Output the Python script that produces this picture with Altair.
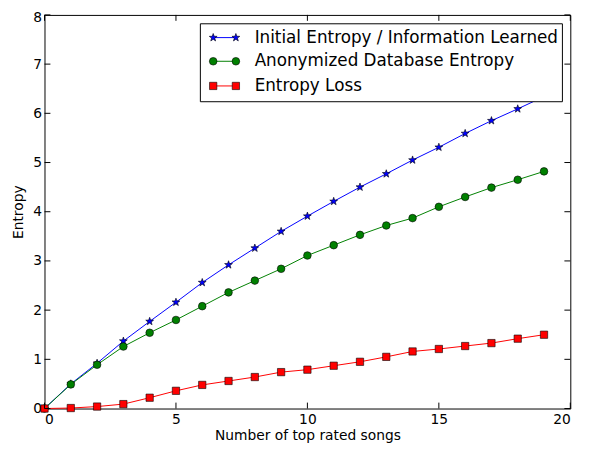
import math
import altair as alt
import pandas as pd

# ---- data ----
songs = list(range(20))
initial_entropy = [0.0, 0.50, 0.92, 1.37, 1.77, 2.16, 2.56, 2.92, 3.26, 3.60,
                   3.91, 4.21, 4.50, 4.77, 5.05, 5.31, 5.59, 5.85, 6.09, 6.34]
anon_entropy = [0.0, 0.49, 0.89, 1.26, 1.54, 1.80, 2.08, 2.36, 2.60, 2.84,
                3.11, 3.32, 3.53, 3.72, 3.87, 4.10, 4.30, 4.49, 4.65, 4.82]
entropy_loss = [0.0, 0.01, 0.04, 0.09, 0.22, 0.36, 0.48, 0.56, 0.64, 0.74,
                0.79, 0.87, 0.95, 1.05, 1.16, 1.21, 1.27, 1.33, 1.42, 1.50]
series_names = ["Initial Entropy / Information Learned",
                "Anonymized Database Entropy",
                "Entropy Loss"]
x_ticks = [0, 5, 10, 15, 20]
y_ticks = [0, 1, 2, 3, 4, 5, 6, 7, 8]

# ---- styles ----
W, H = 533, 399
FONT = "DejaVu Sans"
colors = ["#0000ff", "#008000", "#ff0000"]

def star_path(n=5, r_out=1.0, r_in=0.4):
    pts = []
    for i in range(2 * n):
        r = r_out if i % 2 == 0 else r_in
        a = math.pi * i / n
        pts.append((r * math.sin(a), -r * math.cos(a)))
    return "M" + "L".join(f"{x:.3f},{y:.3f}" for x, y in pts) + "Z"

STAR = star_path()
shapes = [STAR, "circle", "square"]
sizes = [70, 60, 55]

rows = []
for name, vals in zip(series_names, [initial_entropy, anon_entropy, entropy_loss]):
    for s, v in zip(songs, vals):
        rows.append({"songs": s, "entropy": v, "series": name})
df = pd.DataFrame(rows)

xscale = alt.Scale(domain=[0, 20], nice=False, zero=False)
yscale = alt.Scale(domain=[0, 8], nice=False, zero=False)
color = alt.Color("series:N", scale=alt.Scale(domain=series_names, range=colors), legend=None)

X = alt.X("songs:Q", scale=xscale,
          axis=alt.Axis(values=x_ticks, title="Number of top rated songs",
                        labelPadding=4, titlePadding=2))
Y = alt.Y("entropy:Q", scale=yscale,
          axis=alt.Axis(values=y_ticks, title="Entropy", labelPadding=3,
                        titlePadding=7,
                        labelOffset={"condition": {"test": "datum.value == 8", "value": 3},
                                     "value": 0}))

base = alt.Chart(df)
lines = base.mark_line(strokeWidth=1).encode(x=X, y=Y, color=color, detail="series:N")

points = []
for name, col, shp, sz in zip(series_names, colors, shapes, sizes):
    points.append(
        alt.Chart(df[df.series == name]).mark_point(
            filled=True, fill=col, shape=shp, size=sz, stroke="black",
            strokeWidth=0.6, opacity=1
        ).encode(x=alt.X("songs:Q", scale=xscale), y=alt.Y("entropy:Q", scale=yscale))
    )

# inward ticks on all four sides
xt = pd.DataFrame({"songs": x_ticks})
yt = pd.DataFrame({"entropy": y_ticks})
TL = 6
ticks = [
    alt.Chart(xt).mark_rule(color="black", strokeWidth=1).encode(
        x=alt.X("songs:Q", scale=xscale), y=alt.value(H), y2=alt.value(H - TL)),
    alt.Chart(xt).mark_rule(color="black", strokeWidth=1).encode(
        x=alt.X("songs:Q", scale=xscale), y=alt.value(0), y2=alt.value(TL)),
    alt.Chart(yt).mark_rule(color="black", strokeWidth=1).encode(
        y=alt.Y("entropy:Q", scale=yscale), x=alt.value(0), x2=alt.value(TL)),
    alt.Chart(yt).mark_rule(color="black", strokeWidth=1).encode(
        y=alt.Y("entropy:Q", scale=yscale), x=alt.value(W), x2=alt.value(W - TL)),
]

# manual legend (matplotlib style)
one = pd.DataFrame({"k": [0]})
legend_layers = [
    alt.Chart(one).mark_rect(fill="white", stroke="black", strokeWidth=1).encode(
        x=alt.value(158), x2=alt.value(525), y=alt.value(9), y2=alt.value(88))
]
row_y = [23, 47, 72]
for name, col, shp, sz, yy in zip(series_names, colors, shapes, sizes, row_y):
    legend_layers.append(
        alt.Chart(one).mark_rule(color=col, strokeWidth=1).encode(
            x=alt.value(171), x2=alt.value(194), y=alt.value(yy)))
    for xx in (171, 194):
        legend_layers.append(
            alt.Chart(one).mark_point(filled=True, fill=col, shape=shp, size=sz,
                                      stroke="black", strokeWidth=0.6, opacity=1).encode(
                x=alt.value(xx), y=alt.value(yy)))
    legend_layers.append(
        alt.Chart(one).mark_text(text=name, align="left", baseline="middle",
                                 font=FONT, fontSize=17, color="black").encode(
            x=alt.value(213), y=alt.value(yy)))

chart = alt.layer(lines, *points, *ticks, *legend_layers).properties(
    width=W, height=H,
    autosize=alt.AutoSizeParams(type="none"),
    padding={"left": 37, "top": 4, "right": 23, "bottom": 37},
).configure_view(stroke="black", strokeWidth=1).configure_axis(
    domain=False, ticks=False, grid=False,
    labelFont=FONT, labelFontSize=14, labelColor="black",
    titleFont=FONT, titleFontSize=14, titleFontWeight="normal", titleColor="black",
)

chart.save("out.html", embed_options={"renderer": "svg", "actions": False})
